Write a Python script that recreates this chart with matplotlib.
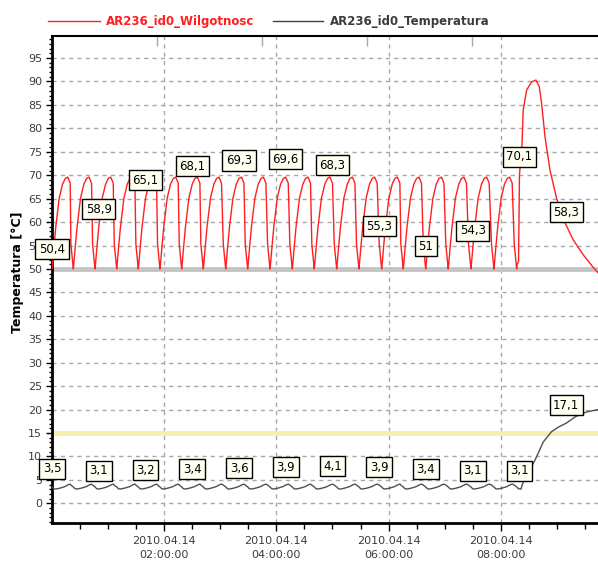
import matplotlib
matplotlib.use('Agg')
import matplotlib.pyplot as plt
from matplotlib.ticker import FixedLocator
from matplotlib.lines import Line2D

# ---- data (time in minutes after 2010.04.14 00:00:00) ----
hum_trough_min = [0.0, 22.8, 46.0, 69.2, 92.3, 115.5, 138.7, 161.8, 185.8, 209.3,
                  233.2, 257.0, 280.5, 304.5, 328.3, 352.6, 375.7, 399.7, 423.8,
                  448.1, 472.7]
last_trough_min = 497.0
# points of one humidity / temperature cycle, minutes after a humidity trough
cycle_offsets_min = [0.0, 0.5, 1.9, 4.0, 7.7, 11.3, 14.2, 16.8, 19.5]
hum_cycle_values = [50.0, 51.0, 54.3, 58.9, 65.1, 68.1, 69.3, 69.6, 68.3]
temp_cycle_values = [3.5, 3.4, 3.1, 3.05, 3.2, 3.4, 3.6, 3.9, 4.1]
pre_drop_min = 2.6          # minutes before next trough
hum_pre_drop = 55.3
temp_pre_drop = 3.9

hum_tail_min = [497.0, 497.5, 499.0, 500.0, 502.7, 504.0, 507.7, 513.0, 517.6, 521.2,
                523.7, 527.3, 532.6, 539.8, 546.8, 550.0, 557.5, 568.3, 579.0, 584.0]
hum_tail = [50.0, 51.0, 51.5, 70.1, 76.5, 83.9, 88.2, 89.9, 90.3, 88.9,
            85.3, 78.2, 71.1, 65.0, 60.8, 59.3, 56.2, 53.0, 50.3, 49.2]
temp_tail_min = [497.0, 498.9, 500.0, 501.5, 503.4, 510.0, 516.6, 525.5, 534.4,
                 542.0, 550.0, 560.0, 571.9, 584.0]
temp_tail = [3.5, 3.1, 3.1, 3.0, 4.2, 6.8, 9.2, 13.1, 15.3, 16.3, 17.1, 18.5, 19.5, 20.0]

label_min = [0, 50, 100, 150, 200, 250, 300, 350, 400, 450, 500, 550]
hum_labels = [50.4, 58.9, 65.1, 68.1, 69.3, 69.6, 68.3, 55.3, 51.0, 54.3, 70.1, 58.3]
temp_labels = [3.5, 3.1, 3.2, 3.4, 3.6, 3.9, 4.1, 3.9, 3.4, 3.1, 3.1, 17.1]

x_major_min = [120, 240, 360, 480]
x_major_labels = ['2010.04.14\n02:00:00', '2010.04.14\n04:00:00',
                  '2010.04.14\n06:00:00', '2010.04.14\n08:00:00']
top_tick_min = [112.3, 224.6, 336.9, 449.2]
y_ticks = list(range(0, 100, 5))
hum_limit = 50
temp_limit = 15

# ---- assemble series from the read points ----
hum_t, hum_v, tmp_t, tmp_v = [], [], [], []
for i, T in enumerate(hum_trough_min):
    nxt = hum_trough_min[i + 1] if i + 1 < len(hum_trough_min) else last_trough_min
    for off, hv, tv in zip(cycle_offsets_min, hum_cycle_values, temp_cycle_values):
        hum_t.append(T + off); hum_v.append(hv)
        tmp_t.append(T + off); tmp_v.append(tv)
    hum_t.append(nxt - pre_drop_min); hum_v.append(hum_pre_drop)
    tmp_t.append(nxt - pre_drop_min); tmp_v.append(temp_pre_drop)
hum_t += hum_tail_min; hum_v += hum_tail
tmp_t += temp_tail_min; tmp_v += temp_tail

RED = '#ff1f1f'
DARK = '#3c3c3c'

fig = plt.figure(figsize=(5.98, 5.61), dpi=100)
ax = fig.add_axes([52 / 598, 38 / 561, 546 / 598, 487 / 561])
ax.set_xlim(0, 584)
ax.set_ylim(-4.2, 99.7)

ax.grid(True, which='major', color='#a8a8a8', linestyle=(0, (3, 3)), lw=1, zorder=0)
ax.set_axisbelow(True)
ax.axhline(hum_limit, color='#c4c4c4', lw=3.5, zorder=1)
ax.axhline(temp_limit, color='#f6efb0', lw=3.5, zorder=1)

ax.plot(hum_t, hum_v, color=RED, lw=1.0, zorder=3)
ax.plot(tmp_t, tmp_v, color='#505050', lw=1.0, zorder=3)


def fmt(v):
    s = f'{v:.1f}'.replace('.', ',')
    return s[:-2] if s.endswith(',0') else s


box = dict(boxstyle='square,pad=0.3', fc='#fffff2', ec='black', lw=1)
for t, v in list(zip(label_min, hum_labels)) + list(zip(label_min, temp_labels)):
    ax.annotate(fmt(v), xy=(t, v), xytext=(0, 18), textcoords='offset pixels',
                ha='center', va='center', fontsize=8.5, color='black',
                bbox=box, annotation_clip=False, zorder=6)

# axes styling
ax.xaxis.set_major_locator(FixedLocator(x_major_min))
ax.set_xticklabels(x_major_labels)
ax.xaxis.set_minor_locator(FixedLocator([m for m in range(30, 584, 30) if m % 120]))
ax.yaxis.set_major_locator(FixedLocator(y_ticks))
ax.yaxis.set_minor_locator(FixedLocator([m for m in range(-4, 100) if m % 5]))
ax.tick_params(axis='x', which='major', length=6, width=1, pad=3,
               labelsize=8, labelcolor=DARK)
ax.tick_params(axis='x', which='minor', length=4, width=1)
ax.tick_params(axis='y', which='major', length=4, width=1, pad=3,
               labelsize=8, labelcolor=DARK)
ax.tick_params(axis='y', which='minor', length=2, width=1)
for lbl in ax.get_xticklabels():
    lbl.set_linespacing(1.55)

for s in ('left', 'bottom'):
    ax.spines[s].set_linewidth(2)
ax.spines['top'].set_linewidth(1.5)
ax.spines['right'].set_visible(False)

sec = ax.secondary_xaxis('top')
sec.set_xticks(top_tick_min)
sec.tick_params(direction='in', length=7, width=1, color='#a8a8a8', labeltop=False)
sec.spines['top'].set_visible(False)

fig.text(18 / 598, 1 - 272 / 561, 'Temperatura [°C]', rotation=90, ha='center',
         va='center', fontsize=9, fontweight='bold', color='black')

# legend
ly = 1 - 21 / 561
fig.add_artist(Line2D([48 / 598, 100 / 598], [ly, ly], color=RED, lw=1,
                      transform=fig.transFigure))
fig.text(106 / 598, ly, 'AR236_id0_Wilgotnosc', color=RED, fontsize=8.5,
         fontweight='bold', va='center', ha='left')
fig.add_artist(Line2D([273 / 598, 323 / 598], [ly, ly], color='#404040', lw=1,
                      transform=fig.transFigure))
fig.text(330 / 598, ly, 'AR236_id0_Temperatura', color=DARK, fontsize=8.5,
         fontweight='bold', va='center', ha='left')

fig.savefig('out.png', dpi=100)
